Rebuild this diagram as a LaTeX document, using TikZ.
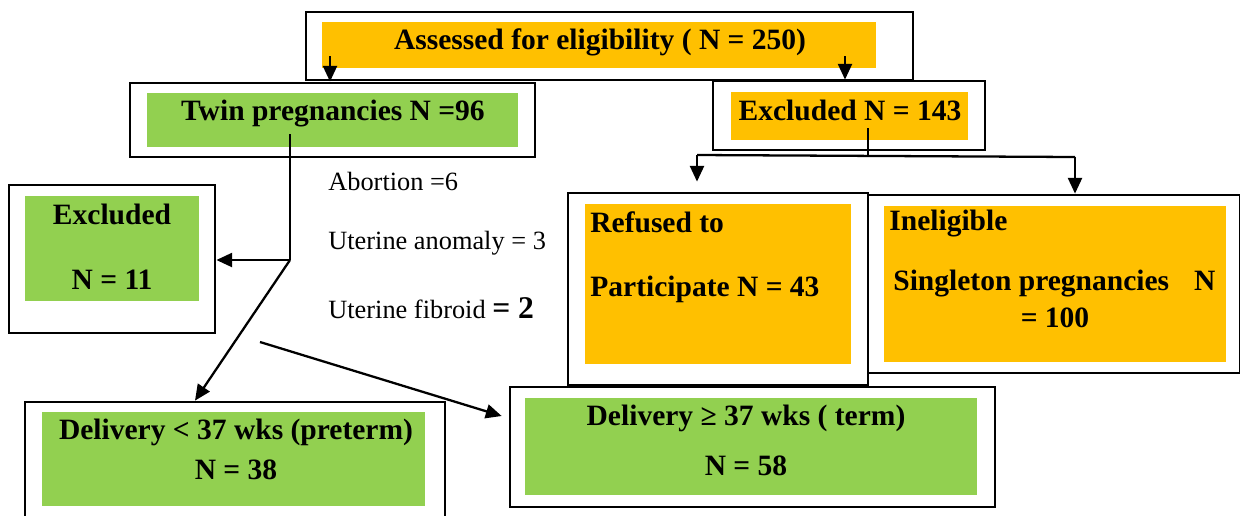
\documentclass[tikz,border=0pt]{standalone}
\usepackage{fontspec}
\setmainfont{Liberation Serif}
\usetikzlibrary{arrows.meta}
\definecolor{orangefill}{HTML}{FFC000}
\definecolor{greenfill}{HTML}{92D050}

\begin{document}
\begin{tikzpicture}[x=0.02cm, y=-0.02cm,
  frame/.style={draw, line width=1.6pt, fill=white, inner sep=0pt},
  ofill/.style={fill=orangefill, inner sep=0pt},
  gfill/.style={fill=greenfill, inner sep=0pt},
  hd/.style={font=\bfseries\fontsize{16.8}{19}\selectfont, inner sep=0pt},
  txt/.style={font=\fontsize{15}{18}\selectfont, inner sep=0pt, anchor=west},
  arr/.style={line width=1.3pt, -{Triangle[length=9pt,width=8pt]}},
  ln/.style={line width=1.3pt},
]
\useasboundingbox (0,0) rectangle (1240,515);
% ---------- assessed ----------
\node[frame, minimum width=12.14cm, minimum height=1.36cm] (assess) at (609.5,46) {};
\node[ofill, minimum width=11.08cm, minimum height=0.92cm] (assessin) at (599,45) {};
\node[hd] at (600,42) {Assessed for eligibility ( N = 250)};
% ---------- twin pregnancies ----------
\node[frame, minimum width=8.1cm, minimum height=1.48cm] (twin) at (332.5,120) {};
\node[gfill, minimum width=7.42cm, minimum height=1.08cm] (twinin) at (332.5,120) {};
\node[hd] at (333,114) {Twin pregnancies N =96};
% ---------- excluded 143 ----------
\node[frame, minimum width=5.44cm, minimum height=1.38cm] (exc143) at (849,115.5) {};
\node[ofill, minimum width=4.74cm, minimum height=0.96cm] (exc143in) at (849.5,116) {};
\node[hd] at (850,110) {Excluded N = 143};
% ---------- refused ----------
\node[frame, minimum width=6.0cm, minimum height=3.84cm] (refused) at (718,289) {};
\node[ofill, minimum width=5.32cm, minimum height=3.2cm] (refusedin) at (718,284) {};
\node[hd, anchor=west] at (590,222) {Refused to};
\node[hd, anchor=west] at (590,289) {Participate N = 43};
% ---------- ineligible ----------
\node[frame, minimum width=7.44cm, minimum height=3.56cm] (inelig) at (1054,284) {};
\node[ofill, minimum width=6.84cm, minimum height=3.12cm] (ineligin) at (1055,284) {};
\node[hd, anchor=west] at (889,224) {Ineligible};
\node[hd, anchor=west] at (893,284) {Singleton pregnancies\hspace{0.6em} N};
\node[hd] at (1055,318) {= 100};
% ---------- excluded 11 ----------
\node[frame, minimum width=4.12cm, minimum height=2.96cm] (exc11) at (112,259) {};
\node[gfill, minimum width=3.48cm, minimum height=2.1cm] (exc11in) at (112,248.5) {};
\node[hd] at (112,214) {Excluded};
\node[hd] at (112,280) {N = 11};
% ---------- reasons ----------
\node[txt] (abort) at (328,181) {Abortion =6};
\node[txt] (anomaly) at (328,243) {Uterine anomaly = 3};
\node[txt] (fibroid) at (328,308) {Uterine fibroid {\bfseries\fontsize{18}{20}\selectfont = 2}};
% ---------- deliveries ----------
\node[frame, minimum width=8.4cm, minimum height=2.36cm] (preterm) at (235,461) {};
\node[gfill, minimum width=7.66cm, minimum height=1.88cm] (pretermin) at (233.5,459) {};
\node[hd] at (236,432) {Delivery < 37 wks (preterm)};
\node[hd] at (236,470) {N = 38};
\node[frame, minimum width=9.7cm, minimum height=2.4cm] (term) at (752.5,447) {};
\node[gfill, minimum width=9.04cm, minimum height=1.94cm] (termin) at (751,446.5) {};
\node[hd] at (746,418) {Delivery ≥ 37 wks ( term)};
\node[hd] at (746,466) {N = 58};
% ---------- connectors ----------
\coordinate (asleft) at (330,56);
\coordinate (asright) at (845,56);
\draw[arr] (asleft) -- (asleft |- twin.north);
\draw[arr] (asright) -- (asright |- exc143.north);
\coordinate (extop) at (868,128);
\coordinate (exleft) at (697,155);
\coordinate (exright) at (1075,157);
\draw[ln] (extop) -- (extop |- exleft);
\draw[ln] (exleft) -- (exright);
\draw[arr] (exleft) -- ([yshift=0.2cm]exleft |- refused.north);
\draw[arr] (exright) -- (exright |- inelig.north);
\coordinate (twtop) at (290,134);
\coordinate (twsplit) at (290,260);
\draw[ln] (twtop) -- (twsplit);
\draw[arr] (twsplit) -- (exc11.east |- twsplit);
\draw[arr] (twsplit) -- ([xshift=-0.8cm]preterm.north);
\coordinate (termstart) at (260,342);
\draw[arr] (termstart) -- ([xshift=-0.14cm,yshift=0.62cm]term.west);
\end{tikzpicture}
\end{document}
